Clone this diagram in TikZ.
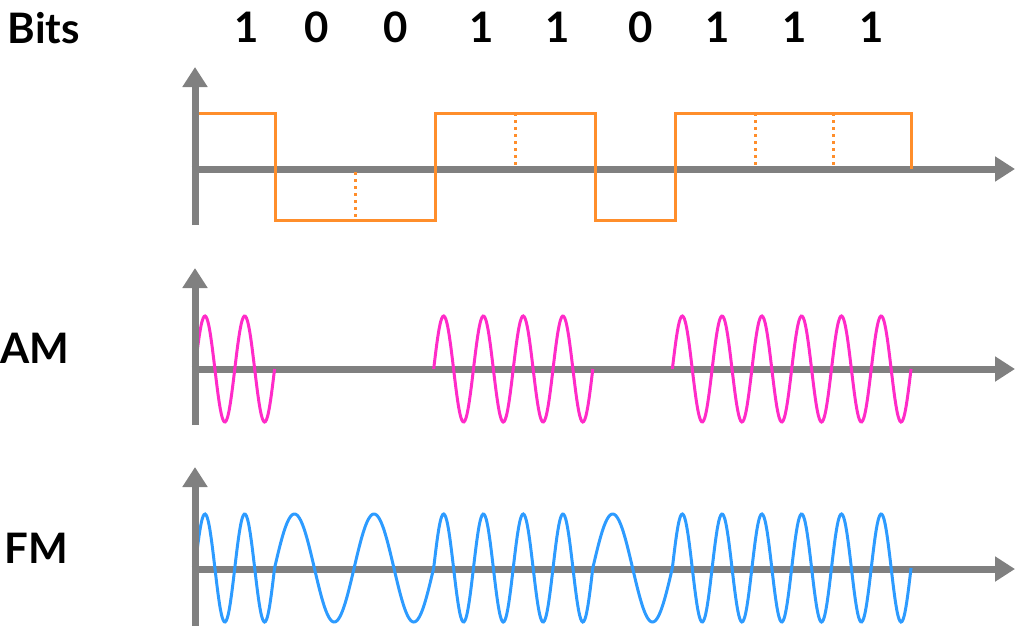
\documentclass[tikz,border=0pt]{standalone}
\usepackage{fontspec}
\setmainfont{Lato}
\usetikzlibrary{arrows.meta}
\definecolor{axisGray}{RGB}{128,128,128}
\definecolor{bitOrange}{RGB}{255,142,43}
\definecolor{amPink}{RGB}{255,43,200}
\definecolor{fmBlue}{RGB}{45,155,255}

\tikzset{
  axisline/.style={draw=axisGray, line width=7pt, -{Triangle[length=20pt,width=24pt]}},
  bitline/.style={draw=bitOrange, line width=3pt},
  bitdots/.style={draw=bitOrange, line width=3pt, dash pattern=on 3pt off 4pt},
  amwave/.style={draw=amPink, line width=3pt},
  fmwave/.style={draw=fmBlue, line width=3pt},
  biglabel/.style={font=\fontsize{42}{48}\selectfont\bfseries, inner sep=0pt}
}

\begin{document}
\begin{tikzpicture}[x=1pt, y=-1pt]
  \useasboundingbox (0,0) rectangle (1017,626);
  \def\bw{79.56}

  % labels
  \node[biglabel] (bits) at (44,28) {Bits};
  \node[biglabel] (am) at (35,348) {AM};
  \node[biglabel] (fm) at (36,548) {FM};

  % axes (origin and arrow ends)
  \coordinate (o1) at (195,169); \coordinate (x1) at (1015,169);
  \coordinate (o2) at (195,369); \coordinate (x2) at (1015,369);
  \coordinate (o3) at (195,569); \coordinate (x3) at (1015,569);
  \draw[axisline] ([xshift=-3.5pt]o1) -- (x1);
  \draw[axisline] ([xshift=-3.5pt]o2) -- (x2);
  \draw[axisline] ([xshift=-3.5pt]o3) -- (x3);

  % digital signal
  \draw[bitline] (195,113) -- (275,113) -- (275,220) -- (435,220) -- (435,113)
    -- (595,113) -- (595,220) -- (675,220) -- (675,113) -- (911,113) -- (911,169);
  \draw[bitdots] (355,172) -- (355,220);
  \foreach \xd in {515,755,833}
    \draw[bitdots] (\xd,113) -- (\xd,166);

  % bit values, AM and FM waves
  \foreach \b/\xl [count=\i from 0] in {1/247,0/317,0/396,1/482,1/558,0/641,1/718,1/795,1/872} {
    \pgfmathsetmacro{\xa}{195+\i*\bw}
    \pgfmathsetmacro{\xb}{\xa+\bw}
    \pgfmathsetmacro{\ka}{720/\bw}
    \pgfmathsetmacro{\kf}{360*(1+\b)/\bw}
    \node[biglabel] (b\i) at (\xl,27.5) {\b};
    \ifnum\b=1
      \draw[amwave] plot[domain=\xa:\xb, samples=80, smooth]
        (\x, {369-53*sin(\ka*(\x-\xa))});
    \fi
    \draw[fmwave] plot[domain=\xa:\xb, samples=80, smooth]
      (\x, {568-54*sin(\kf*(\x-\xa))});
  }

  % vertical axes
  \draw[axisline] (195,225) -- (195,67);
  \draw[axisline] (195,425) -- (195,268);
  \draw[axisline] (195,626) -- (195,467);
\end{tikzpicture}
\end{document}
